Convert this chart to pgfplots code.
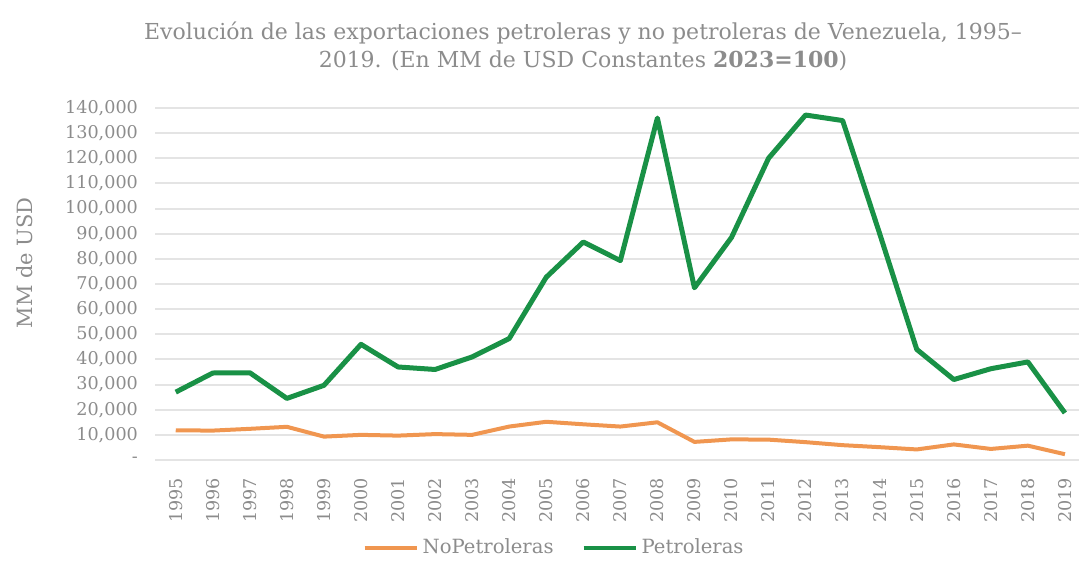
\documentclass[border=0pt]{standalone}
\usepackage{fontspec}
\setmainfont{DejaVu Serif}
\usepackage{pgfplots}
\pgfplotsset{compat=1.18}
\definecolor{petro}{RGB}{25,145,70}
\definecolor{nopetro}{RGB}{240,150,80}
\definecolor{txt}{RGB}{140,140,140}
\definecolor{gridc}{RGB}{228,228,228}
\begin{document}
\begin{tikzpicture}[x=1pt,y=1pt]
\path[use as bounding box] (0,0) rectangle (539.5,281);
\begin{axis}[
  at={(77.5pt,51pt)}, anchor=south west,
  scale only axis, width=462pt, height=176pt,
  xmin=1994.44, xmax=2019.38, ymin=0, ymax=140000,
  axis line style={draw=none},
  major tick length=0pt,
  scaled y ticks=false,
  ymajorgrids, grid style={draw=gridc, line width=1pt},
  xtick={1995,...,2019},
  ytick={0,10000,...,140000},
  yticklabels={-,{10,000},{20,000},{30,000},{40,000},{50,000},{60,000},{70,000},{80,000},{90,000},{100,000},{110,000},{120,000},{130,000},{140,000}},
  /pgf/number format/assume math mode=true,
  /pgf/number format/1000 sep={},
  tick label style={font=\fontsize{8.8}{10}\selectfont, text=txt},
  yticklabel style={xshift=-5pt},
  xticklabel style={rotate=90, anchor=east, xshift=-5.5pt},
  ylabel={MM de USD},
  ylabel style={at={(axis description cs:-0.1407,0.56)}, anchor=center, rotate=0, font=\fontsize{10.5}{12}\selectfont, text=txt},
  legend columns=2,
  legend style={at={(axis description cs:0.433,-0.25)}, anchor=center, draw=none, fill=none,
    font=\fontsize{9.8}{11}\selectfont, text=txt,
    /tikz/every even column/.append style={column sep=12pt}},
  legend image code/.code={\draw[#1, line width=2pt] (0pt,0pt) -- (26pt,0pt);},
]
\addplot[nopetro, line width=2pt, line join=round] coordinates {
(1995,11800) (1996,11700) (1997,12400) (1998,13200) (1999,9300)
(2000,10000) (2001,9700) (2002,10300) (2003,10000) (2004,13300)
(2005,15200) (2006,14200) (2007,13300) (2008,15000) (2009,7200)
(2010,8200) (2011,8100) (2012,7100) (2013,5900) (2014,5100)
(2015,4200) (2016,6200) (2017,4400) (2018,5700) (2019,2300)
};
\addlegendentry{NoPetroleras}
\addplot[petro, line width=2.5pt, line join=round] coordinates {
(1995,27000) (1996,34600) (1997,34700) (1998,24500) (1999,29700)
(2000,46000) (2001,37000) (2002,36000) (2003,41000) (2004,48300)
(2005,72700) (2006,86700) (2007,79300) (2008,136000) (2009,68500)
(2010,88500) (2011,120000) (2012,137200) (2013,135000) (2014,90000)
(2015,44000) (2016,32000) (2017,36300) (2018,39000) (2019,18700)
};
\addlegendentry{Petroleras}
\end{axis}
\node[align=center, text=txt, font=\fontsize{11}{14}\selectfont] at (291.5,258)
  {Evolución de las exportaciones petroleras y no petroleras de Venezuela, 1995–\\2019. (En MM de USD Constantes \textbf{2023=100})};
\end{tikzpicture}
\end{document}
